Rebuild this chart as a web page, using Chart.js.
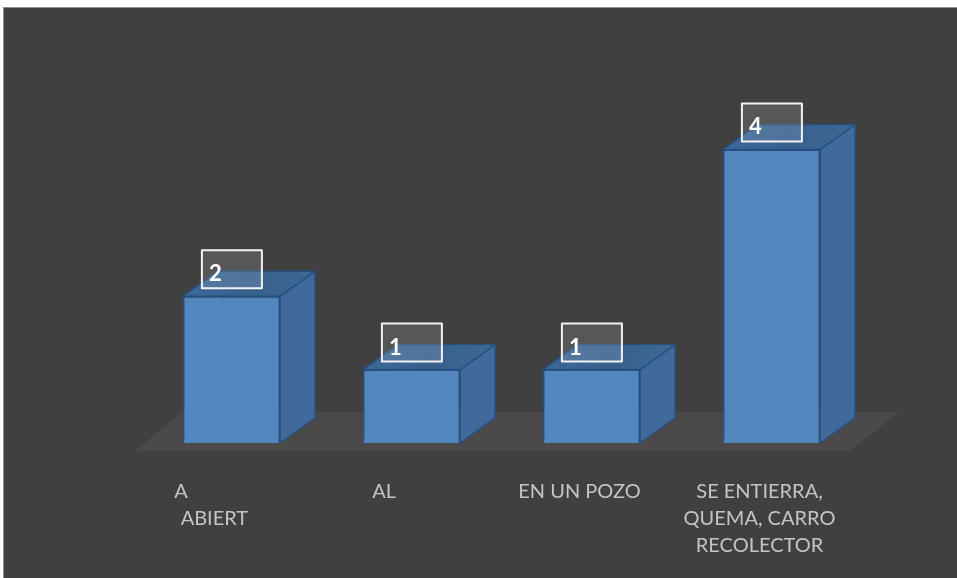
<!DOCTYPE html>
<html>
<head>
<meta charset="utf-8">
<script src="https://cdn.jsdelivr.net/npm/chart.js@4/dist/chart.umd.min.js"></script>
<style>
    html, body { margin: 0; padding: 0; background: #ffffff; }
    #wrap {
        position: absolute;
        left: 3px;
        top: 7px;
        width: 953px;
        height: 570px;
        background: #404040;
        border-top: 1px solid #8c8c8c;
        border-left: 1px solid #8c8c8c;
    }
    canvas { display: block; }
</style>
</head>
<body>
<div id="wrap"><canvas id="chart" width="953" height="570"></canvas></div>
<script>
// categories and values
const categories = [
    ['A               ', 'ABIERT  '],
    'AL      ',
    'EN UN POZO',
    ['SE ENTIERRA,', 'QUEMA, CARRO', 'RECOLECTOR']
];
const counts = [2, 1, 1, 4];
const yTicks = [0, 1, 2, 3, 4, 5];

const DEPTH_X = 35;
const DEPTH_Y = -25;

// floor plane under the bars
const floorPlugin = {
    id: 'floor',
    beforeDatasetsDraw(chart) {
        const ctx = chart.ctx;
        const area = chart.chartArea;
        const yBase = chart.scales.y.getPixelForValue(0);
        ctx.save();
        ctx.fillStyle = '#4b4949';
        ctx.beginPath();
        ctx.moveTo(area.left - 7, yBase + 8);
        ctx.lineTo(area.right - 12, yBase + 8);
        ctx.lineTo(area.right + 38, yBase - 31);
        ctx.lineTo(area.left + 41, yBase - 31);
        ctx.closePath();
        ctx.fill();
        ctx.restore();
    }
};

// side and top faces, hidden edges and value boxes
const boxPlugin = {
    id: 'box3d',
    afterDatasetsDraw(chart) {
        const ctx = chart.ctx;
        const meta = chart.getDatasetMeta(0);
        ctx.save();
        meta.data.forEach((bar, i) => {
            const left = bar.x - bar.width / 2;
            const right = bar.x + bar.width / 2;
            const top = bar.y;
            const base = bar.base;

            // hidden back edges seen through the front
            ctx.strokeStyle = 'rgba(110,165,220,0.35)';
            ctx.lineWidth = 1;
            ctx.beginPath();
            ctx.moveTo(left + DEPTH_X, top + DEPTH_Y);
            ctx.lineTo(left + DEPTH_X, base + DEPTH_Y);
            ctx.lineTo(left, base);
            ctx.stroke();

            ctx.strokeStyle = 'rgba(35,80,130,0.9)';
            ctx.lineWidth = 1.5;
            ctx.lineJoin = 'round';

            // right side
            ctx.fillStyle = '#41699a';
            ctx.beginPath();
            ctx.moveTo(right, top);
            ctx.lineTo(right + DEPTH_X, top + DEPTH_Y);
            ctx.lineTo(right + DEPTH_X, base + DEPTH_Y);
            ctx.lineTo(right, base);
            ctx.closePath();
            ctx.fill();
            ctx.stroke();

            // top
            const g = ctx.createLinearGradient(left, 0, right + DEPTH_X, 0);
            g.addColorStop(0, '#3d6896');
            g.addColorStop(0.5, '#37608d');
            g.addColorStop(1, '#3f6895');
            ctx.fillStyle = g;
            ctx.beginPath();
            ctx.moveTo(left, top);
            ctx.lineTo(right, top);
            ctx.lineTo(right + DEPTH_X, top + DEPTH_Y);
            ctx.lineTo(left + DEPTH_X, top + DEPTH_Y);
            ctx.closePath();
            ctx.fill();
            ctx.stroke();

            // value label box
            const bx = left + 19;
            const by = top - 46;
            ctx.fillStyle = 'rgba(255,255,255,0.12)';
            ctx.fillRect(bx, by, 60, 38);
            ctx.strokeStyle = '#f2f2f2';
            ctx.lineWidth = 2;
            ctx.strokeRect(bx, by, 60, 38);
            ctx.fillStyle = '#ffffff';
            ctx.font = 'bold 22px Lato';
            ctx.textAlign = 'left';
            ctx.textBaseline = 'alphabetic';
            ctx.fillText(String(counts[i]), bx + 7, by + 31);
        });
        ctx.restore();
    }
};

new Chart(document.getElementById('chart'), {
    type: 'bar',
    data: {
        labels: categories,
        datasets: [{
            data: counts,
            backgroundColor: '#5286be',
            borderColor: 'rgba(35,80,130,0.9)',
            borderWidth: 1.5,
            barPercentage: 0.54,
            categoryPercentage: 1
        }]
    },
    options: {
        responsive: false,
        animation: false,
        layout: { padding: { left: 137.5, right: 95.5, top: 68, bottom: 0 } },
        plugins: {
            legend: { display: false },
            tooltip: { enabled: false }
        },
        scales: {
            x: {
                grid: { display: false },
                border: { display: false },
                ticks: {
                    color: '#c4c4c4',
                    font: { family: 'Lato', size: 20, lineHeight: 1.35 },
                    padding: 27,
                    labelOffset: -12,
                    maxRotation: 0,
                    autoSkip: false
                },
                afterFit(scale) { scale.height = 135; }
            },
            y: {
                display: false,
                min: yTicks[0],
                max: yTicks[yTicks.length - 1]
            }
        }
    },
    plugins: [floorPlugin, boxPlugin]
});
</script>
</body>
</html>
